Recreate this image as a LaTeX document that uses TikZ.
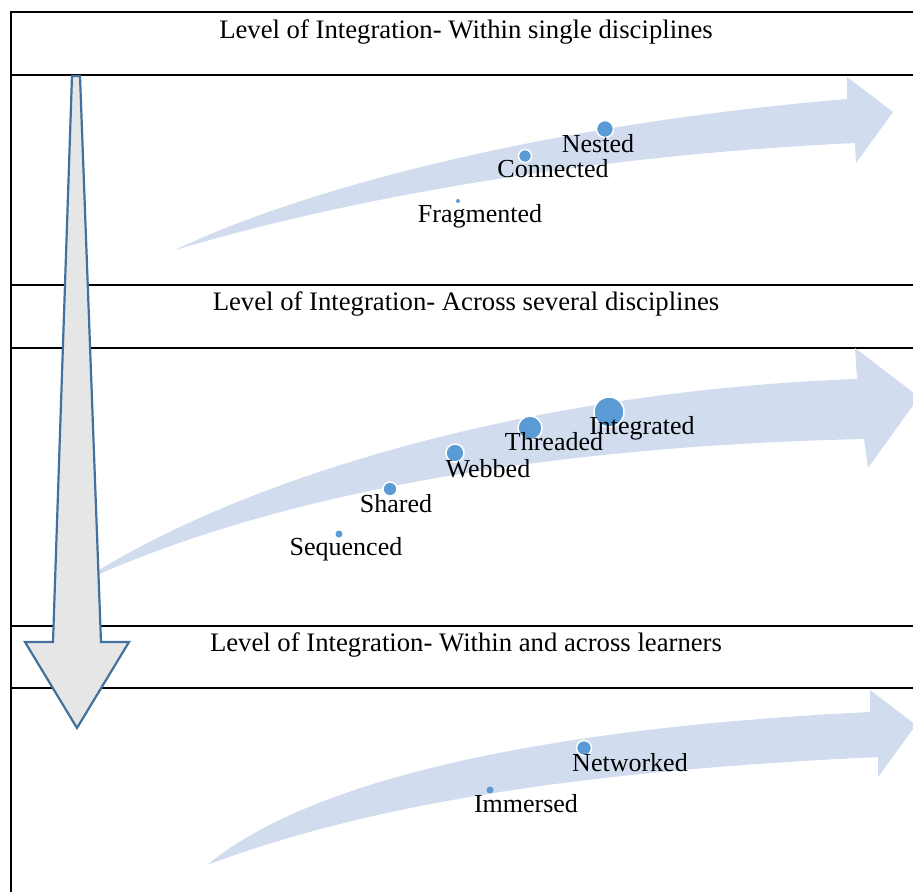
\documentclass[tikz,border=0pt]{standalone}
\usepackage{fontspec}
\setmainfont{Liberation Serif}
\definecolor{bandblue}{RGB}{209,220,239}
\definecolor{dotblue}{RGB}{91,155,213}
\definecolor{arrowgrey}{RGB}{231,230,230}
\definecolor{arrowedge}{RGB}{65,113,156}
\tikzset{
  rule/.style={line width=2.2pt, black},
  band/.style={fill=bandblue, draw=none},
  downarrow/.style={fill=arrowgrey, draw=arrowedge, line width=2.2pt, line join=miter},
  dot/.style={circle, fill=dotblue, draw=white, line width=1.5pt, inner sep=0pt, minimum size=#1},
  lbl/.style={anchor=base, inner sep=0pt, font=\fontsize{26}{30}\selectfont},
  hdr/.style={anchor=base, inner sep=0pt, font=\fontsize{26.7}{30}\selectfont},
}
\begin{document}
\begin{tikzpicture}[x=1pt, y=-1pt]
\useasboundingbox (0,0) rectangle (913,892);
\begin{scope}
\clip (0,0) rectangle (913,892);
% table rules
\draw[rule] (11,892) -- (11,12) -- (913,12);
\foreach \yy in {75,285,348,626,688} \draw[rule] (11,\yy) -- (913,\yy);
% curved band arrows
\fill[band] (175,250) .. controls (300,190) and (540,125) .. (847,99)
  -- (847,77) -- (893,112) -- (856,163) -- (855,143)
  .. controls (600,155) and (360,195) .. (175,250) -- cycle;
\fill[band] (75,585) .. controls (250,470) and (550,390) .. (857,379)
  -- (855,348) -- (919,397) -- (868,468) -- (864,439)
  .. controls (600,445) and (300,480) .. (75,585) -- cycle;
\fill[band] (207,865) .. controls (310,780) and (540,728) .. (870,712)
  -- (870,690) -- (916,725) -- (878,777) -- (878,757)
  .. controls (600,770) and (380,800) .. (207,865) -- cycle;
% down arrow
\draw[downarrow] (72,76) -- (80,76) -- (101,642) -- (129,642) -- (77,728)
  -- (25,642) -- (53,642) -- cycle;
\end{scope}
% headers
\node[hdr] (h1) at (466,38) {Level of Integration- Within single disciplines};
\node[hdr] (h2) at (466,310) {Level of Integration- Across several disciplines};
\node[hdr] (h3) at (466,651) {Level of Integration- Within and across learners};
% dots
\node[dot=4pt, draw=none] (dfrag) at (458,201) {};
\node[dot=13pt] (dconn) at (525,156) {};
\node[dot=17pt] (dnest) at (605,129) {};
\node[dot=7pt, draw=none] (dseq) at (339,534) {};
\node[dot=14pt] (dshar) at (390,489) {};
\node[dot=18pt] (dweb) at (455,453) {};
\node[dot=24pt] (dthr) at (530,428) {};
\node[dot=30pt] (dint) at (609,412) {};
\node[dot=7pt, draw=none] (dimm) at (490,790) {};
\node[dot=15pt] (dnet) at (584,748) {};
% labels
\node[lbl] (lfrag) at (480,222) {Fragmented};
\node[lbl] (lconn) at (553,177) {Connected};
\node[lbl] (lnest) at (598,152) {Nested};
\node[lbl] (lseq) at (346,555) {Sequenced};
\node[lbl] (lshar) at (396,512) {Shared};
\node[lbl] (lweb) at (488,477) {Webbed};
\node[lbl] (lthr) at (554,450) {Threaded};
\node[lbl] (lint) at (642,434) {Integrated};
\node[lbl] (limm) at (526,812) {Immersed};
\node[lbl] (lnet) at (630,771) {Networked};
\end{tikzpicture}
\end{document}
